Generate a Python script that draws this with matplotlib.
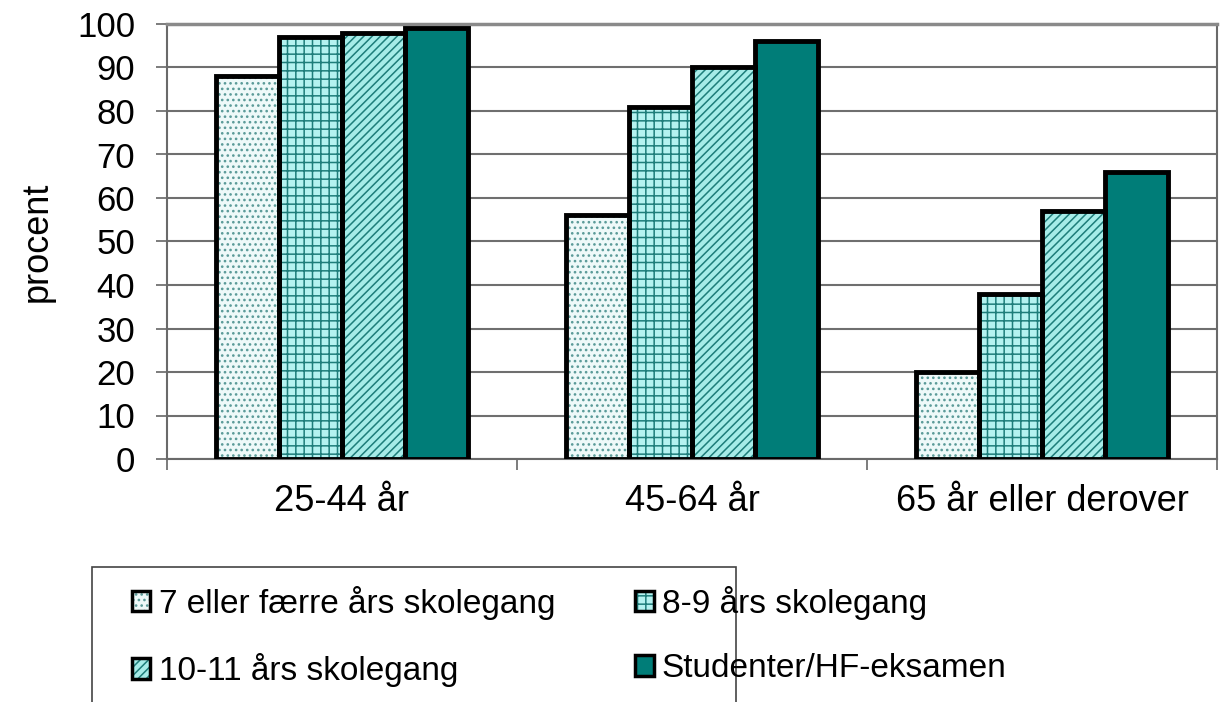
import matplotlib
matplotlib.use("Agg")
import matplotlib.pyplot as plt
from matplotlib.patches import Patch, Rectangle
import numpy as np

categories = ["25-44 år", "45-64 år", "65 år eller derover"]
series_names = ["7 eller færre års skolegang", "8-9 års skolegang",
                "10-11 års skolegang", "Studenter/HF-eksamen"]
s1 = [88, 56, 20]
s2 = [97, 81, 38]
s3 = [98, 90, 57]
s4 = [99, 96, 66]
yticks = [0, 10, 20, 30, 40, 50, 60, 70, 80, 90, 100]

plt.rcParams['font.family'] = ['Liberation Sans', 'DejaVu Sans']
plt.rcParams['hatch.linewidth'] = 1.1

fig = plt.figure(figsize=(12.2, 7.02), dpi=100)
ax = fig.add_axes([167/1220, 1-459/702, (1217-167)/1220, (459-24)/702])

series = [s1, s2, s3, s4]
faces = ['#eef9f9', '#b4f2f0', '#a6ece8', '#007d78']
hatches = ['...', '++', '////', '']
hcolors = ['#5a9a98', '#1e7d7a', '#1e7d7a', '#007d78']
x = np.arange(len(categories))
w = 0.18
for i, vals in enumerate(series):
    pos = x + (i - 1.5) * w
    ax.bar(pos, vals, w, color=faces[i], hatch=hatches[i], edgecolor=hcolors[i],
           linewidth=0, zorder=3)
    ax.bar(pos, vals, w, fill=False, edgecolor='black', linewidth=3.5, zorder=4)

ax.set_ylim(0, 100)
ax.set_xlim(-0.5, 2.5)
ax.set_yticks(yticks)
ax.set_yticklabels([str(t) for t in yticks], fontsize=25)
ax.set_xticks(x)
ax.set_xticklabels(categories, fontsize=26)
ax.set_xticks([-0.5, 0.5, 1.5, 2.5], minor=True)
ax.tick_params(axis='x', which='major', length=0, pad=18)
ax.tick_params(axis='x', which='minor', length=8, width=1.2, color='#666', direction='out')
ax.tick_params(axis='y', length=8, width=1.2, color='#666', direction='out', pad=15)
ax.yaxis.grid(True, color='#6f6f6f', linewidth=1.5, zorder=0)
ax.set_axisbelow(True)
for side in ['left', 'bottom', 'right', 'top']:
    ax.spines[side].set_color('#6a6a6a')
    ax.spines[side].set_linewidth(1.5)
ax.spines['top'].set_color('#8a8a8a')
ax.spines['top'].set_linewidth(2.5)
ax.set_ylabel("procent", fontsize=26, labelpad=16)

handles = [(Patch(facecolor=faces[i], hatch=hatches[i], edgecolor=hcolors[i], linewidth=0),
            Patch(fill=False, edgecolor='black', linewidth=2.5)) for i in range(4)]
order = [0, 2, 1, 3]
leg = fig.legend([handles[i] for i in order], [series_names[i] for i in order],
                 ncol=2, loc='upper left', bbox_to_anchor=(132/1220, 1-586/702),
                 frameon=False, fontsize=24, handlelength=0.55, handleheight=0.55,
                 handletextpad=0.25, columnspacing=2.4, labelspacing=1.0,
                 borderpad=0, borderaxespad=0)
fig.add_artist(Rectangle((92/1220, -0.05), (736-92)/1220, (702-567)/702 + 0.05,
                         transform=fig.transFigure, fill=False,
                         edgecolor='#444', linewidth=1.2))

fig.savefig("out.png", dpi=100)
